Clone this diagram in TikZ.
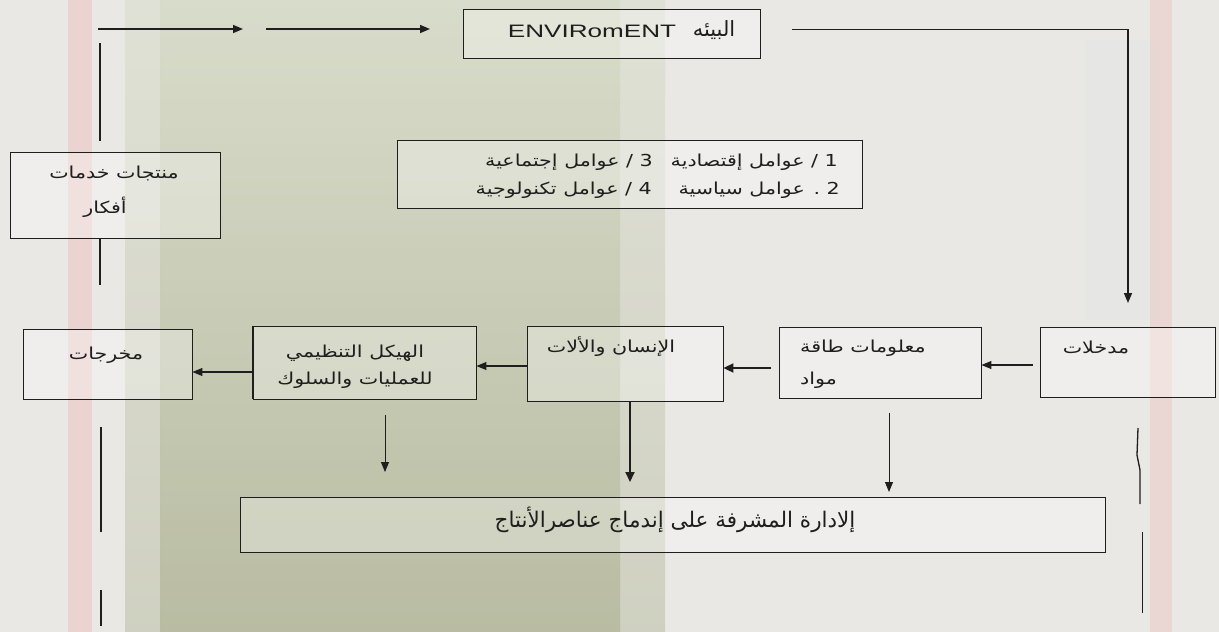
\documentclass[tikz,border=0pt]{standalone}
\usepackage{fontspec}
\usepackage{graphicx}
\setmainfont{Liberation Sans}
\newfontfamily\arfont[Script=Arabic]{DejaVu Sans}
\TeXXeTstate=1
\usetikzlibrary{arrows.meta}
\newcommand\AR[1]{\scalebox{1.25}[1]{\arfont\beginR #1\endR}}
\newcommand\ARn[1]{{\arfont\beginR #1\endR}}
\definecolor{bgc}{HTML}{E9E8E4}
\definecolor{leafTop}{HTML}{D3D8C2}
\definecolor{leafBot}{HTML}{A9AE8C}
\definecolor{inkc}{HTML}{1E1E1E}
\begin{document}
\begin{tikzpicture}[x=1pt,y=-1pt,
  box/.style={draw=inkc, line width=0.9pt, fill=white, fill opacity=0.3, text opacity=1, inner sep=0pt},
  tx/.style={inner sep=0pt, text=inkc, font=\fontsize{16.5}{19}\selectfont},
  arr/.style={draw=inkc, line width=0.9pt, -{Triangle[length=10pt,width=8pt]}},
  tarr/.style={draw=inkc, line width=2pt, -{Triangle[length=10pt,width=9pt]}},
  ln/.style={draw=inkc, line width=0.9pt},
  tln/.style={draw=inkc, line width=1.8pt}]
\useasboundingbox (0,0) rectangle (1219,632);
% background
\fill[bgc] (0,0) rectangle (1219,632);
\fill[red!25!bgc, opacity=0.35] (68,0) rectangle (92,632);
\shade[top color=leafTop, bottom color=leafBot, opacity=0.4] (125,0) rectangle (160,632);
\shade[top color=leafTop, bottom color=leafBot, opacity=0.75] (160,0) rectangle (620,632);
\shade[top color=leafTop, bottom color=leafBot, opacity=0.4] (620,0) rectangle (665,632);
\fill[black!10, opacity=0.5] (1085,40) rectangle (1160,320);
\fill[red!20!bgc, opacity=0.35] (1150,0) rectangle (1172,632);
% boxes
\node[box, minimum width=297pt, minimum height=49pt] (env) at (611.5,33.5) {};
\node[box, minimum width=465pt, minimum height=68pt] (fac) at (629.5,174) {};
\node[box, minimum width=210pt, minimum height=86pt] (prod) at (115,195) {};
\node[box, minimum width=169pt, minimum height=70pt] (out) at (107.5,364) {};
\node[box, minimum width=223pt, minimum height=73pt] (struct) at (364.5,362.5) {};
\node[box, minimum width=196pt, minimum height=75pt] (man) at (625,363.5) {};
\node[box, minimum width=202pt, minimum height=71pt] (info) at (880,362.5) {};
\node[box, minimum width=175pt, minimum height=70pt] (inp) at (1127.5,362) {};
\node[box, minimum width=865pt, minimum height=55pt] (mgmt) at (672.5,524.5) {};
% heavier edges
\draw[tln] (struct.north west) -- (struct.south west);
\draw[tln] (man.south west) -- (man.south east);
\draw[tln] (inp.north east) -- (inp.south east);
\draw[tln] (fac.north east) -- (fac.south east);
\draw[tln] (prod.north east) -- (prod.south east);
% texts
\node[inner sep=0pt, text=inkc] (envt) at (592,31) {\scalebox{1.45}[1]{\fontsize{18}{20}\selectfont ENVIRomENT}};
\node[tx, font=\fontsize{21}{24}\selectfont] (enva) at (714,30) {\ARn{البيئه}};
\node[tx, anchor=east] (f1) at (838,162) {\AR{1 / عوامل إقتصادية}};
\node[tx, anchor=east] (f3) at (653,162) {\AR{3 / عوامل إجتماعية}};
\node[tx, anchor=east] (f2) at (840,190) {\AR{2 . عوامل سياسية}};
\node[tx, anchor=east] (f4) at (652,190) {\AR{4 / عوامل تكنولوجية}};
\node[tx] (p1) at (114,173) {\AR{منتجات خدمات}};
\node[tx] (p2) at (105,207) {\AR{أفكار}};
\node[tx] (o1) at (106,355) {\AR{مخرجات}};
\node[tx] (s1) at (355,353) {\AR{الهيكل التنظيمي}};
\node[tx] (s2) at (355,380) {\AR{للعمليات والسلوك}};
\node[tx] (m1) at (611,347) {\AR{الإنسان والألات}};
\node[tx, anchor=west] (i1) at (800,348) {\AR{معلومات طاقة}};
\node[tx, anchor=west] (i2) at (800,380) {\AR{مواد}};
\node[tx] (n1) at (1096,347) {\AR{مدخلات}};
\node[tx, font=\fontsize{21.5}{24}\selectfont] (g1) at (675,520) {\ARn{إلادارة المشرفة على إندماج عناصرالأنتاج}};
% free-end coordinates
\coordinate (t1a) at (98,29);  \coordinate (t1b) at (243,29);
\coordinate (t2a) at (266,29); \coordinate (t2b) at (430,29);
\coordinate (ea) at (792,29);  \coordinate (ec) at (1128,29); \coordinate (eb) at (1128,303);
\coordinate (l1a) at (100,43); \coordinate (l1b) at (100,141);
\coordinate (l2b) at (100,285);
\coordinate (l3a) at (101,427); \coordinate (l3b) at (101,532);
\coordinate (l4a) at (101,590); \coordinate (l4b) at (101,626);
\coordinate (sd) at (385,415); \coordinate (sde) at (385,472);
\coordinate (me) at (630,482);
\coordinate (id) at (889,413); \coordinate (ide) at (889,492);
\coordinate (r1a) at (1138,428); \coordinate (r1m) at (1137,455); \coordinate (r1n) at (1140,470); \coordinate (r1b) at (1140,504);
\coordinate (r2a) at (1142,532); \coordinate (r2b) at (1142,613);
% connectors
\draw[arr, line width=1.6pt] (t1a) -- (t1b);
\draw[arr, line width=1.6pt] (t2a) -- (t2b);
\draw[ln] (ea) -- (ec);
\draw[arr, line width=1.5pt] (ec) -- (eb);
\draw[tln, line width=1.2pt] (l1a) -- (l1b);
\draw[tln, line width=1.2pt] (prod.south -| l1a) -- (l2b);
\draw[tln, line width=1.2pt] (l3a) -- (l3b);
\draw[tln, line width=1.2pt] (l4a) -- (l4b);
\draw[arr, line width=1.1pt] (struct.west |- 0,372) -- (out.east |- 0,372);
\draw[arr, line width=1.1pt] (man.west |- 0,366) -- (struct.east |- 0,366);
\draw[tarr] (771,368) coordinate (ia) -- (man.east |- ia) ;
\draw[arr, line width=1.1pt] (inp.west |- 0,365) ++(-7,0) -- (info.east |- 0,365);
\draw[arr] (sd) -- (sde);
\draw[tarr] (man.south -| me) -- (me);
\draw[arr] (id) -- (ide);
\draw[ln, line width=1.3pt] (r1a) -- (r1m) -- (r1n) -- (r1b);
\draw[ln] (r2a) -- (r2b);
\end{tikzpicture}
\end{document}
